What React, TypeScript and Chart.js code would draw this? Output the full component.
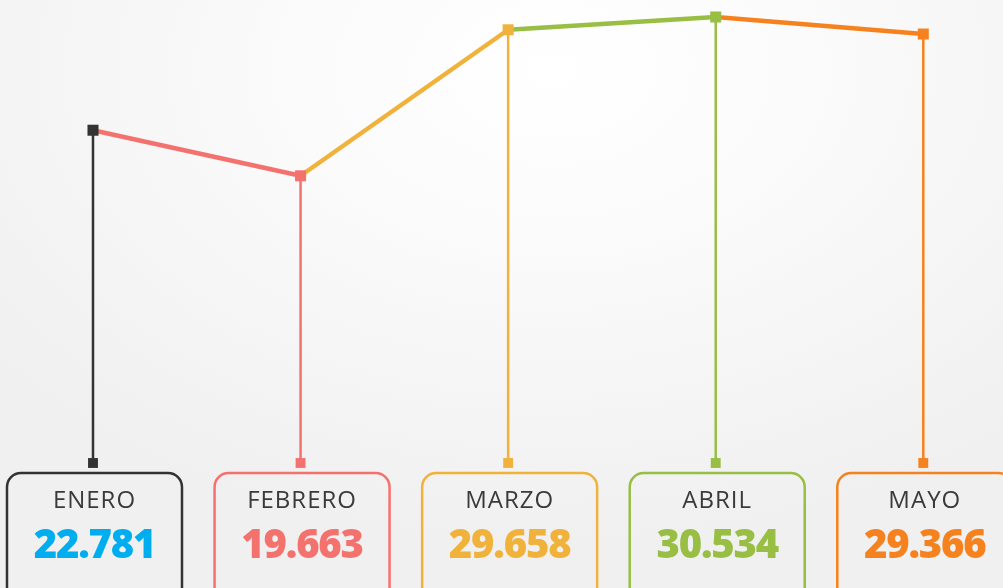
import React, { useEffect, useRef } from "react";
import { Chart, registerables } from "chart.js";

Chart.register(...registerables);

const months = ["ENERO", "FEBRERO", "MARZO", "ABRIL", "MAYO"];
const values = [22.781, 19.663, 29.658, 30.534, 29.366];
const valueLabels = ["22.781", "19.663", "29.658", "30.534", "29.366"];
const pointColors = ["#333333", "#F4726E", "#F0B23B", "#98BE43", "#F5821F"];
const valueColors = ["#00AEEF", "#F4726E", "#F0B23B", "#98BE43", "#F5821F"];
const baseline = 0;

const boxesPlugin = {
  id: "boxes",
  afterDatasetsDraw(chart: any) {
    const { ctx } = chart;
    const xs = chart.scales.x;
    const ys = chart.scales.y;
    const by = ys.getPixelForValue(baseline);
    months.forEach((m, i) => {
      const cx = xs.getPixelForValue(i) + 1.5;
      const w = 175;
      const top = by + 10;
      const h = 140;
      ctx.save();
      ctx.strokeStyle = pointColors[i];
      ctx.lineWidth = 2.5;
      ctx.beginPath();
      ctx.roundRect(cx - w / 2, top, w, h, 14);
      ctx.stroke();
      ctx.textAlign = "center";
      ctx.textBaseline = "middle";
      ctx.fillStyle = "#3a3a3a";
      ctx.font = "400 24px 'Open Sans'";
      try { (ctx as any).letterSpacing = "1px"; } catch (e) {}
      ctx.fillText(m, cx, top + 28);
      ctx.fillStyle = valueColors[i];
      ctx.font = "800 40px 'Open Sans'";
      try { (ctx as any).letterSpacing = "-1.2px"; } catch (e) {}
      ctx.fillText(valueLabels[i], cx, top + 74);
      ctx.restore();
    });
  },
};

export default function App() {
  const ref = useRef<HTMLCanvasElement>(null);
  useEffect(() => {
    document.body.style.margin = "0";
    const dropSets = values.map((v, i) => ({
      type: "line" as const,
      data: [
        { x: i, y: v },
        { x: i, y: baseline },
      ],
      borderColor: pointColors[i],
      backgroundColor: pointColors[i],
      borderWidth: 2.5,
      pointStyle: "rect",
      pointRadius: [0, 7],
      pointBorderWidth: 0,
      order: 2,
    }));
    const chart = new Chart(ref.current!, {
      type: "line",
      data: {
        datasets: [
          {
            data: values.map((v, i) => ({ x: i, y: v })),
            borderWidth: 4.5,
            borderColor: pointColors[1],
            segment: {
              borderColor: (c: any) => pointColors[c.p1DataIndex],
            },
            pointStyle: "rect",
            pointRadius: 7.8,
            pointBorderWidth: 0,
            pointBackgroundColor: pointColors,
            order: 1,
          } as any,
          ...(dropSets as any),
        ],
      },
      options: {
        animation: false,
        responsive: true,
        maintainAspectRatio: false,
        layout: { padding: 0, autoPadding: false },
        plugins: { legend: { display: false }, tooltip: { enabled: false } },
        scales: {
          x: { type: "linear", min: -0.448, max: 4.384, display: false },
          y: { type: "linear", min: -8.558, max: 31.697, display: false },
        },
      },
      plugins: [boxesPlugin],
    });
    return () => chart.destroy();
  }, []);
  return (
    <div
      style={{
        position: "fixed",
        left: 0,
        top: 0,
        width: 1003,
        height: 588,
        background:
          "radial-gradient(ellipse 70% 80% at 55% 12%, #ffffff 0%, #fbfbfb 35%, #f0f0f0 100%)",
      }}
    >
      <canvas ref={ref} width={1003} height={588} />
    </div>
  );
}
